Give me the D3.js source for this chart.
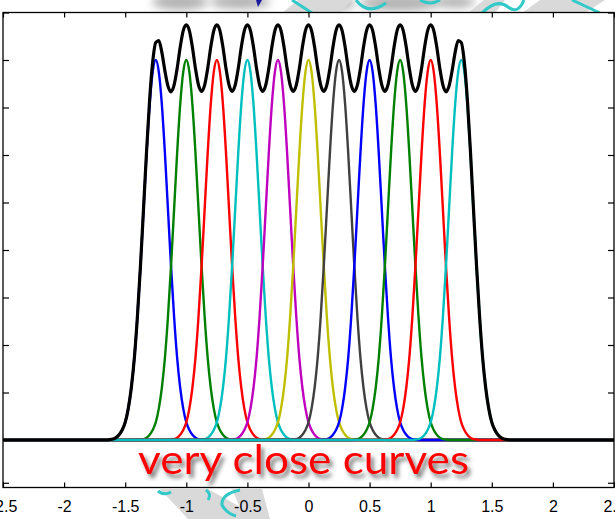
<!DOCTYPE html>
<html>
<head>
<meta charset="utf-8">
<script src="https://cdn.jsdelivr.net/npm/d3@7"></script>
<style>
  html, body { margin: 0; padding: 0; background: #fff; }
  svg { display: block; }
</style>
</head>
<body>
<svg id="chart" width="615" height="519"></svg>
<script>
// ---- data ----
const xTicks = [-2.5, -2, -1.5, -1, -0.5, 0, 0.5, 1, 1.5, 2, 2.5];
const xTickLabels = ["-2.5", "-2", "-1.5", "-1", "-0.5", "0", "0.5", "1", "1.5", "2", "2.5"];
const yTicks = [-0.09, 0, 0.1, 0.2, 0.3, 0.4, 0.5, 0.6, 0.7, 0.8, 0.9];
const centers = [-1.25, -1, -0.75, -0.5, -0.25, 0, 0.25, 0.5, 0.75, 1, 1.25];
const curveColors = ["#0000ff", "#008000", "#ff0000", "#00bfbf", "#bf00bf", "#bfbf00",
                     "#404040", "#0000ff", "#008000", "#ff0000", "#00bfbf"];
// one bump profile (distance from centre -> height)
const profileOffsets = [0, 0.025, 0.05, 0.075, 0.1, 0.125, 0.15, 0.175, 0.2, 0.225,
                        0.25, 0.275, 0.3, 0.325, 0.35, 0.375, 0.4];
const profileValues  = [0.800, 0.775, 0.706, 0.604, 0.485, 0.366, 0.260, 0.173, 0.110, 0.066,
                        0.037, 0.021, 0.011, 0.005, 0.002, 0.001, 0.000];
const sampleStep = 0.025;
const titleText = "very close curves";

// ---- helpers ----
function bump(x, c) {
  const i = Math.round(Math.abs(x - c) / sampleStep);
  return i < profileValues.length ? profileValues[i] : 0;
}
const nSamples = Math.round((2.5 - (-2.5)) / sampleStep);
const xs = d3.range(nSamples + 1).map(i => -2.5 + i * sampleStep);
const series = centers.map((c, k) => ({ color: curveColors[k], pts: xs.map(x => [x, bump(x, c)]) }));
const sumPts = xs.map((x, i) => [x, d3.sum(series, s => s.pts[i][1])]);

// ---- layout ----
const svg = d3.select("#chart");
const L = 3, R = 614, T = 12.5, B = 487.5;
const x = d3.scaleLinear().domain([-2.5, 2.5]).range([L, R]);
const y = d3.scaleLinear().domain([-0.1, 0.9]).range([B, T]);

// ---- background decoration (picture behind the plot) ----
const deco = svg.append("g");
const defs = svg.append("defs");
defs.append("filter").attr("id", "blur4").append("feGaussianBlur").attr("stdDeviation", 4);
const sh = defs.append("filter").attr("id", "tshadow")
  .attr("x", "-10%").attr("y", "-30%").attr("width", "130%").attr("height", "170%");
sh.append("feDropShadow").attr("dx", 3).attr("dy", 4).attr("stdDeviation", 2.2)
  .attr("flood-color", "#444").attr("flood-opacity", 0.75);

deco.append("g").attr("filter", "url(#blur4)").selectAll("ellipse")
  .data([[180, 2, 28, 8], [240, 2, 30, 7], [330, 3, 25, 8], [400, 3, 40, 8], [455, 2, 20, 6]])
  .join("ellipse").attr("cx", d => d[0]).attr("cy", d => d[1]).attr("rx", d => d[2]).attr("ry", d => d[3])
  .attr("fill", "#8a8a8a").attr("opacity", 0.65);
const grayPolys = [
  "M282,13 L298,0 L352,0 L340,13 Z",
  "M468,13 L484,0 L505,0 L495,13 Z",
  "M522,13 L540,0 L605,0 L585,13 Z",
  "M160,489 L208,489 L262,519 L188,519 Z",
  "M232,489 L262,489 L270,519 L245,519 Z"
];
deco.selectAll("path.gp").data(grayPolys).join("path").attr("class", "gp")
  .attr("d", d => d).attr("fill", "#d9d9d9");
const cyanPaths = [
  "M292,0 L312,13",
  "M356,0 Q368,16 386,3",
  "M482,13 Q497,-2 508,7 Q518,15 524,0",
  "M572,0 L600,13",
  "M420,0 Q430,6 440,0",
  "M158,491 Q164,496 171,492",
  "M240,490 Q221,494 222,505 Q226,513 236,516",
  "M206,490 Q212,494 208,500"
];
deco.selectAll("path.cp").data(cyanPaths).join("path").attr("class", "cp")
  .attr("d", d => d).attr("fill", "none").attr("stroke", "#33c9c9").attr("stroke-width", 3);
deco.append("path").attr("d", "M256,0 L262,0 L258,7 Z").attr("fill", "#1a1aa0");

// plot area
svg.append("rect").attr("x", L).attr("y", T).attr("width", R - L).attr("height", B - T).attr("fill", "#fff");
defs.append("clipPath").attr("id", "plotclip").append("rect")
  .attr("x", L).attr("y", T).attr("width", R - L).attr("height", B - T);

const line = d3.line().x(d => x(d[0])).y(d => y(d[1])).curve(d3.curveMonotoneX);
const plot = svg.append("g").attr("clip-path", "url(#plotclip)");
plot.selectAll("path.curve").data(series).join("path").attr("class", "curve")
  .attr("d", d => line(d.pts)).attr("fill", "none").attr("stroke", d => d.color)
  .attr("stroke-width", 2.4).attr("stroke-linejoin", "round");
plot.append("path").attr("d", line(sumPts)).attr("fill", "none").attr("stroke", "#000")
  .attr("stroke-width", 3.2).attr("stroke-linejoin", "round");

// axes (ticks point inward on all four sides)
const fmt = (d, i) => xTickLabels[i];
const axB = svg.append("g").attr("transform", `translate(0,${B})`)
  .call(d3.axisBottom(x).tickValues(xTicks).tickFormat(fmt).tickSizeInner(-5).tickSizeOuter(0).tickPadding(13));
const axT = svg.append("g").attr("transform", `translate(0,${T})`)
  .call(d3.axisTop(x).tickValues(xTicks).tickFormat("").tickSizeInner(-5).tickSizeOuter(0));
const axL = svg.append("g").attr("transform", `translate(${L},0)`)
  .call(d3.axisLeft(y).tickValues(yTicks).tickFormat("").tickSizeInner(-6).tickSizeOuter(0));
const axR = svg.append("g").attr("transform", `translate(${R},0)`)
  .call(d3.axisRight(y).tickValues(yTicks).tickFormat("").tickSizeInner(-6).tickSizeOuter(0));
[axB, axT, axL, axR].forEach(a => {
  a.select(".domain").remove();
  a.selectAll(".tick line").attr("stroke", "#000").attr("stroke-width", 1.2);
});
axB.selectAll(".tick text").attr("font-family", "Liberation Sans, Arial, sans-serif")
  .attr("font-size", 16).attr("fill", "#000");

svg.append("rect").attr("x", L).attr("y", T).attr("width", R - L).attr("height", B - T)
  .attr("fill", "none").attr("stroke", "#000").attr("stroke-width", 1.3);

// overlay caption
svg.append("text").attr("x", 138).attr("y", 474)
  .attr("font-family", "Lato, Open Sans, sans-serif").attr("font-size", 40)
  .attr("textLength", 331).attr("lengthAdjust", "spacingAndGlyphs")
  .attr("fill", "#ff0000").attr("filter", "url(#tshadow)").text(titleText);
</script>
</body>
</html>
